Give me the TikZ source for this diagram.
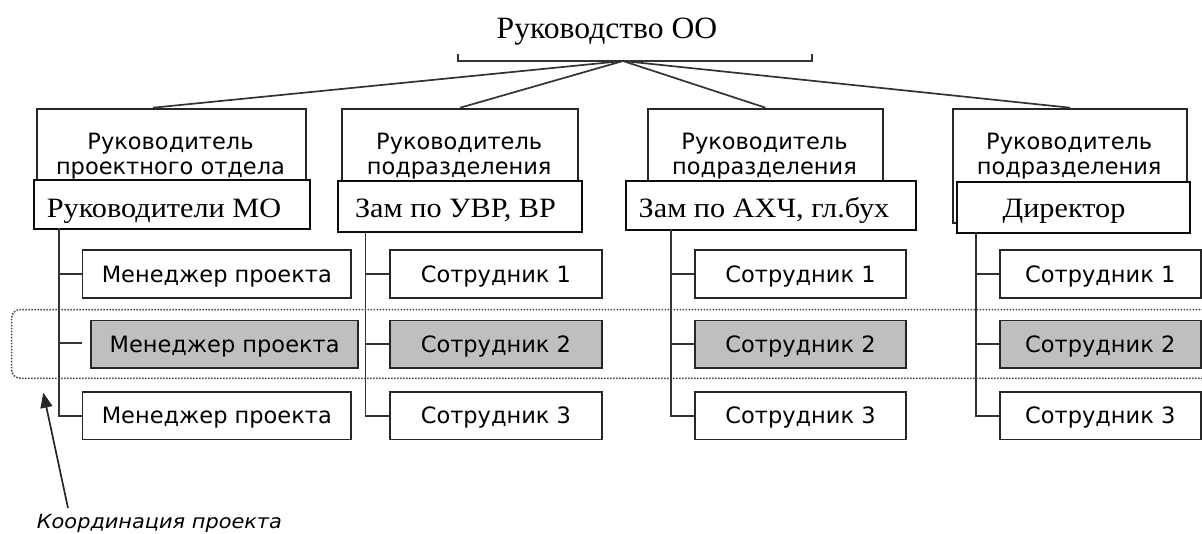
\documentclass[tikz,border=0pt]{standalone}
\usepackage{fontspec}
\usepackage{graphicx}
\setmainfont{Liberation Serif}
\newfontfamily\sansf{DejaVu Sans}
\usetikzlibrary{arrows.meta}
\begin{document}
\begin{tikzpicture}[x=1pt,y=-1pt,
  topbox/.style={draw=black!85, line width=1.9pt, fill=white, inner sep=0pt, anchor=north west, minimum height=114pt},
  midbox/.style={draw=black!95, line width=2pt, fill=white, inner sep=0pt, anchor=north west},
  midtext/.style={inner sep=0pt, anchor=base, font=\fontsize{28}{30}\selectfont},
  rowbox/.style={draw=black!85, line width=1.9pt, fill=white, inner sep=0pt, anchor=north west, minimum height=47.5pt, text height=16.4pt, text depth=0pt, font=\sansf\fontsize{22.5}{26}\selectfont},
  graybox/.style={rowbox, fill=black!25},
  toptext/.style={inner sep=0pt, align=center, font=\sansf\fontsize{22.5}{25.7}\selectfont},
  conn/.style={draw=black!80, line width=1.7pt},
  coord/.style={draw=black!75, line width=1.5pt, dash pattern=on 1.5pt off 1.5pt}
]
\useasboundingbox (0,0) rectangle (1202,533);

% title and bracket
\node[inner sep=0pt, anchor=base, font=\fontsize{31}{34}\selectfont] (title) at (607,38.3) {\scalebox{1.02}[1]{Руководство ОО}};
\coordinate (bl) at (458,54);
\coordinate (br) at (812,54);
\coordinate (hub) at (623,61);
\draw[conn] (bl) -- (458,61) -- (812,61) -- (br);

% top boxes
\node[topbox, minimum width=269.8pt] (t1) at (35.6,107.7) {};
\node[topbox, minimum width=235.7pt] (t2) at (341.4,107.7) {};
\node[topbox, minimum width=235.7pt] (t3) at (646.7,107.7) {};
\node[topbox, minimum width=234.3pt] (t4) at (952,107.7) {};
\node[toptext] (t1txt) at (170.5,156) {Руководитель\\проектного отдела};
\node[toptext] (t2txt) at (459.2,156) {Руководитель\\подразделения};
\node[toptext] (t3txt) at (764.5,156) {Руководитель\\подразделения};
\node[toptext] (t4txt) at (1069.2,156) {Руководитель\\подразделения};

\coordinate (e1) at (153,107.7);
\draw[conn] (hub) -- (e1);
\draw[conn] (hub) -- (t2.north);
\draw[conn] (hub) -- (t3.north);
\draw[conn] (hub) -- (t4.north);

% middle boxes
\node[midbox, minimum width=275.9pt, minimum height=49.3pt] (m1) at (33.3,179) {};
\node[midbox, minimum width=244.2pt, minimum height=50.4pt] (m2) at (336.8,180.3) {};
\node[midbox, minimum width=289.3pt, minimum height=49pt] (m3) at (625.3,180.3) {};
\node[midbox, minimum width=233.4pt, minimum height=51.3pt] (m4) at (956,181) {};
\node[midtext] (m1txt) at (164,217.3) {\scalebox{1.08}[1]{Руководители МО}};
\node[midtext] (m2txt) at (455.5,217.8) {\scalebox{1.08}[1]{Зам по УВР, ВР}};
\node[midtext] (m3txt) at (764,217.8) {\scalebox{1.08}[1]{Зам по АХЧ, гл.бух}};
\node[midtext] (m4txt) at (1064,217.8) {\scalebox{1.08}[1]{Директор}};

% rows
\node[rowbox, minimum width=268.7pt] (r1c1) at (81.5,249.3) {Менеджер проекта};
\node[graybox, minimum width=266.7pt] (r2c1) at (90.3,319.5) {Менеджер проекта};
\node[rowbox, minimum width=268.7pt] (r3c1) at (81.5,391) {Менеджер проекта};

\node[rowbox, minimum width=211.5pt] (r1c2) at (389.2,249.3) {Сотрудник 1};
\node[graybox, minimum width=211.5pt] (r2c2) at (389.2,319.5) {Сотрудник 2};
\node[rowbox, minimum width=211.5pt] (r3c2) at (389.2,391) {Сотрудник 3};

\node[rowbox, minimum width=211.6pt] (r1c3) at (693.8,249.3) {Сотрудник 1};
\node[graybox, minimum width=211.6pt] (r2c3) at (693.8,319.5) {Сотрудник 2};
\node[rowbox, minimum width=211.6pt] (r3c3) at (693.8,391) {Сотрудник 3};

\node[rowbox, minimum width=201pt] (r1c4) at (998.8,249.3) {Сотрудник 1};
\node[graybox, minimum width=201pt] (r2c4) at (998.8,319.5) {Сотрудник 2};
\node[rowbox, minimum width=201pt] (r3c4) at (998.8,391) {Сотрудник 3};

% trunks
\coordinate (k1) at (59.3,228.3);
\coordinate (k2) at (365.5,230.7);
\coordinate (k3) at (670.8,229.3);
\coordinate (k4) at (976,232.3);
\coordinate (g2) at (81.5,343.3);

\draw[conn] (k1) |- (r3c1.west);
\draw[conn] (k1 |- r1c1.west) -- (r1c1.west);
\draw[conn] (k1 |- g2) -- (g2);

\draw[conn] (k2) |- (r3c2.west);
\draw[conn] (k2 |- r1c2.west) -- (r1c2.west);
\draw[conn] (k2 |- r2c2.west) -- (r2c2.west);

\draw[conn] (k3) |- (r3c3.west);
\draw[conn] (k3 |- r1c3.west) -- (r1c3.west);
\draw[conn] (k3 |- r2c3.west) -- (r2c3.west);

\draw[conn] (k4) |- (r3c4.west);
\draw[conn] (k4 |- r1c4.west) -- (r1c4.west);
\draw[conn] (k4 |- r2c4.west) -- (r2c4.west);

% coordination band
\draw[coord, rounded corners=9pt] (1215,309.5) -- (11.5,309.5) -- (11.5,378.3) -- (1215,378.3);

% label and arrow
\node[inner sep=0pt, anchor=base west, font=\sansf\itshape\fontsize{19.5}{22}\selectfont] (lab) at (36.7,528.3) {\scalebox{1.07}[1]{Координация проекта}};
\coordinate (atail) at (68,508);
\coordinate (atip) at (43.3,392.7);
\draw[draw=black!85, line width=1.7pt, -{Triangle[length=15pt,width=12pt]}] (atail) -- (atip);
\end{tikzpicture}
\end{document}
